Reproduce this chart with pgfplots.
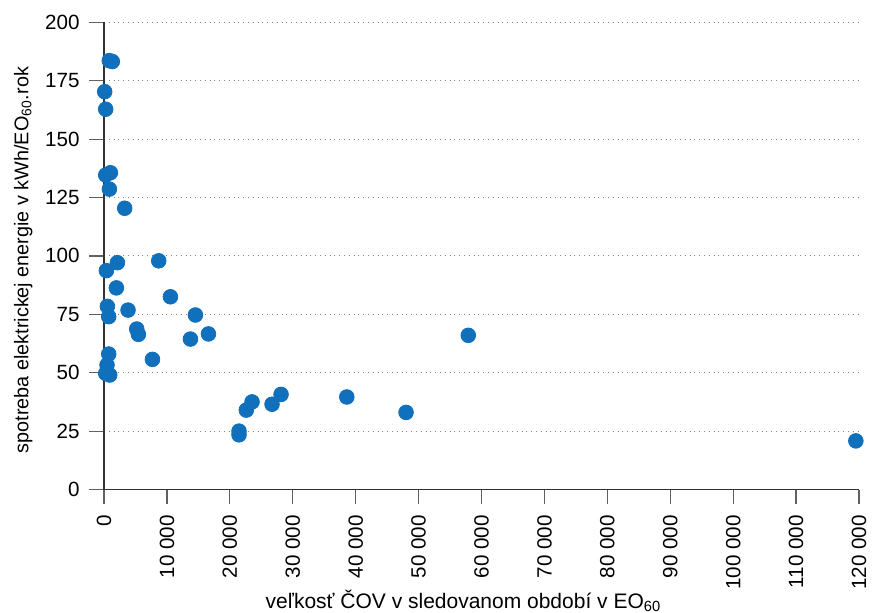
\documentclass[border=0pt]{standalone}
\usepackage{pgfplots}
\pgfplotsset{compat=1.18}
\usepackage{fontspec}
\setmainfont{Liberation Sans}
\definecolor{dotblue}{RGB}{17,112,188}
\definecolor{axgray}{RGB}{50,50,50}
\begin{document}
\begin{tikzpicture}
\useasboundingbox (-52pt,-61.25pt) rectangle (385.5pt,244.75pt);
\begin{axis}[
  at={(0pt,0pt)}, anchor=south west,
  scale only axis,
  width=377.5pt, height=233.6pt,
  xmin=0, xmax=120000, ymin=0, ymax=200,
  axis x line*=bottom, axis y line*=left,
  axis line style={axgray, line width=0.6pt, -},
  xtick={0,10000,20000,30000,40000,50000,60000,70000,80000,90000,100000,110000,120000},
  xticklabels={0,10 000,20 000,30 000,40 000,50 000,60 000,70 000,80 000,90 000,100 000,110 000,120 000},
  ytick={0,25,50,75,100,125,150,175,200},
  yticklabels={0,25,50,75,100,125,150,175,200},
  scaled x ticks=false,
  tick align=outside,
  major tick length=7.3pt,
  tick style={gray!75!black, line width=0.6pt},
  xticklabel style={rotate=90, anchor=east, font=\fontsize{10.3}{12}\selectfont, inner sep=0pt, xshift=-5.3pt},
  yticklabel style={font=\fontsize{10.3}{12}\selectfont, inner sep=0pt, xshift=-4.7pt},
  ymajorgrids,
  grid style={gray, dotted, line width=0.5pt},
  xlabel={veľkosť ČOV v sledovanom období v EO\textsubscript{60}},
  ylabel={spotreba elektrickej energie v kWh/EO\textsubscript{60}.rok},
  xlabel style={font=\fontsize{10.5}{12}\selectfont, at={(axis description cs:0.5,0)}, anchor=base, xshift=-9pt, yshift=-59.25pt, inner sep=0pt},
  ylabel style={font=\fontsize{9.9}{12}\selectfont, at={(axis description cs:-0.1,0.491)}, anchor=base, inner sep=0pt},
  clip=false,
]
\addplot[only marks, mark=*, mark size=3.67pt, color=dotblue, mark options={draw=none, fill=dotblue}] coordinates {
(840,183.6) (1320,183.2)
(110,170.3) (270,162.8)
(270,134.6) (1020,135.6)
(860,128.6) (3290,120.4)
(2130,97.1) (380,93.7) (8700,97.9)
(1970,86.3) (10560,82.5)
(540,78.4) (750,74.0) (3820,76.8) (14530,74.7)
(5200,68.7) (5470,66.4) (16600,66.6) (13740,64.4)
(7700,55.7) (750,58.0) (480,53.3) (270,49.7) (910,49.0)
(57900,66.0) (48010,33.0)
(22620,34.0) (23530,37.5) (21460,25.0) (21460,23.4)
(26710,36.5) (28140,40.7) (38590,39.6)
(119500,20.8)
};
\end{axis}
\end{tikzpicture}
\end{document}
